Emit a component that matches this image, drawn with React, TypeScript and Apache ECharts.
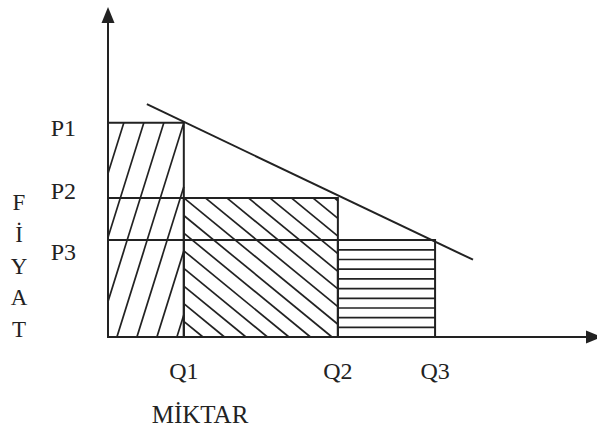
import React, { useEffect, useRef } from "react";
import * as echarts from "echarts";

// Quantity / price levels of the three price-discrimination blocks
const quantityLabels = ["Q1", "Q2", "Q3"];
const quantities = [15.6, 47.3, 67.3];
const priceLabels = ["P1", "P2", "P3"];
const prices = [66.5, 43.2, 30.1];

// Demand curve end points
const demandX = [8.0, 75.1];
const demandY = [72.3, 24.0];

const axisTitleX = "MİKTAR";
const axisTitleY = "FİYAT";

const INK = "#222222";
const FONT = "'Liberation Serif', 'Times New Roman', serif";

// Hatch pattern for each block: pixel slope of the lines and spacing between them
type Hatch = { slope: number; spacing: number; anchor: "tl" | "tr" };
const hatches: Hatch[] = [
  { slope: -3.2, spacing: 20, anchor: "tr" },
  { slope: 0.82, spacing: 21.5, anchor: "tl" },
  { slope: 0, spacing: 9.7, anchor: "tl" },
];

function hatchLines(L: number, T: number, R: number, B: number, h: Hatch) {
  const out: number[][] = [];
  const ax = h.anchor === "tr" ? R : L;
  const ay = T;
  if (h.slope === 0) {
    for (let y = ay + h.spacing; y < B - 2; y += h.spacing) out.push([L, y, R, y]);
    return out;
  }
  const m = h.slope;
  for (let k = -80; k <= 80; k++) {
    const c = ay - m * (ax + k * h.spacing);
    const xa0 = (T - c) / m;
    const xb0 = (B - c) / m;
    const xa = Math.max(L, Math.min(xa0, xb0));
    const xb = Math.min(R, Math.max(xa0, xb0));
    if (xb - xa > 0.5) out.push([xa, m * xa + c, xb, m * xb + c]);
  }
  return out;
}

const blocks = quantities.map((q, i) => [i === 0 ? 0 : quantities[i - 1], q, prices[i]]);

export default function App() {
  const ref = useRef<HTMLDivElement>(null);

  useEffect(() => {
    if (!ref.current) return;
    const chart = echarts.init(ref.current, undefined, { renderer: "svg" });

    const textStyle = { fontFamily: FONT, fontSize: 24, color: INK };
    // small vertical nudges for the price labels
    const priceShift = [
      [10, 0, 0, 0],
      [0, 0, 14, 0],
      [24, 0, 0, 0],
    ];
    const rich: Record<string, any> = {};
    priceLabels.forEach((_, i) => {
      rich["p" + i] = { ...textStyle, padding: priceShift[i] };
    });

    chart.setOption({
      animation: false,
      backgroundColor: "#ffffff",
      grid: { left: 108, right: 3, top: 15, bottom: 93, outerBoundsMode: "none", containLabel: false },
      xAxis: {
        type: "value",
        min: 0,
        max: 100,
        axisLine: {
          show: true,
          symbol: ["none", "triangle"],
          symbolSize: [13, 16],
          lineStyle: { color: INK, width: 2 },
        },
        axisTick: { show: false },
        splitLine: { show: false },
        axisLabel: {
          customValues: quantities,
          formatter: (v: number) => quantityLabels[quantities.indexOf(v)] ?? "",
          margin: 22,
          ...textStyle,
        },
      },
      yAxis: {
        type: "value",
        min: 0,
        max: 100,
        axisLine: {
          show: true,
          symbol: ["none", "triangle"],
          symbolSize: [13, 16],
          lineStyle: { color: INK, width: 2 },
        },
        axisTick: { show: false },
        splitLine: { show: false },
        axisLabel: {
          customValues: prices,
          formatter: (v: number) => {
            const i = prices.indexOf(v);
            return i < 0 ? "" : `{p${i}|${priceLabels[i]}}`;
          },
          margin: 32,
          rich,
          ...textStyle,
        },
      },
      graphic: [
        {
          type: "text",
          x: 200,
          y: 414,
          style: { text: axisTitleX, font: `25px ${FONT}`, fill: INK, align: "center", verticalAlign: "middle" },
        },
        {
          type: "text",
          x: 19,
          y: 266,
          style: {
            text: axisTitleY.split("").join("\n"),
            font: `23px ${FONT}`,
            lineHeight: 31.6,
            fill: INK,
            align: "center",
            verticalAlign: "middle",
          },
        },
      ],
      series: [
        {
          type: "custom",
          coordinateSystem: "cartesian2d",
          encode: { x: [0, 1], y: 2 },
          data: blocks,
          z: 2,
          renderItem: (params: any, api: any) => {
            const i = params.dataIndex;
            const x0 = api.value(0);
            const x1 = api.value(1);
            const top = api.value(2);
            const [L, T] = api.coord([x0, top]);
            const [R, B] = api.coord([x1, 0]);
            const children: any[] = [];
            hatchLines(L, T, R, B, hatches[i]).forEach(([a, b, c, d]) =>
              children.push({
                type: "line",
                shape: { x1: a, y1: b, x2: c, y2: d },
                style: { stroke: INK, lineWidth: 1.7 },
              })
            );
            // lower price levels continue across this block
            for (let j = i + 1; j < prices.length; j++) {
              const y = api.coord([x0, prices[j]])[1];
              children.push({
                type: "line",
                shape: { x1: L, y1: y, x2: R, y2: y },
                style: { stroke: INK, lineWidth: 2 },
              });
            }
            children.push({
              type: "rect",
              shape: { x: L, y: T, width: R - L, height: B - T },
              style: { fill: "none", stroke: INK, lineWidth: 2 },
            });
            return { type: "group", children };
          },
        },
        {
          type: "line",
          data: demandX.map((x, i) => [x, demandY[i]]),
          symbol: "none",
          z: 3,
          lineStyle: { color: INK, width: 2 },
        },
      ],
    });

    return () => chart.dispose();
  }, []);

  return (
    <div
      ref={ref}
      style={{ position: "fixed", left: 0, top: 0, width: 597, height: 430, background: "#fff" }}
    />
  );
}
